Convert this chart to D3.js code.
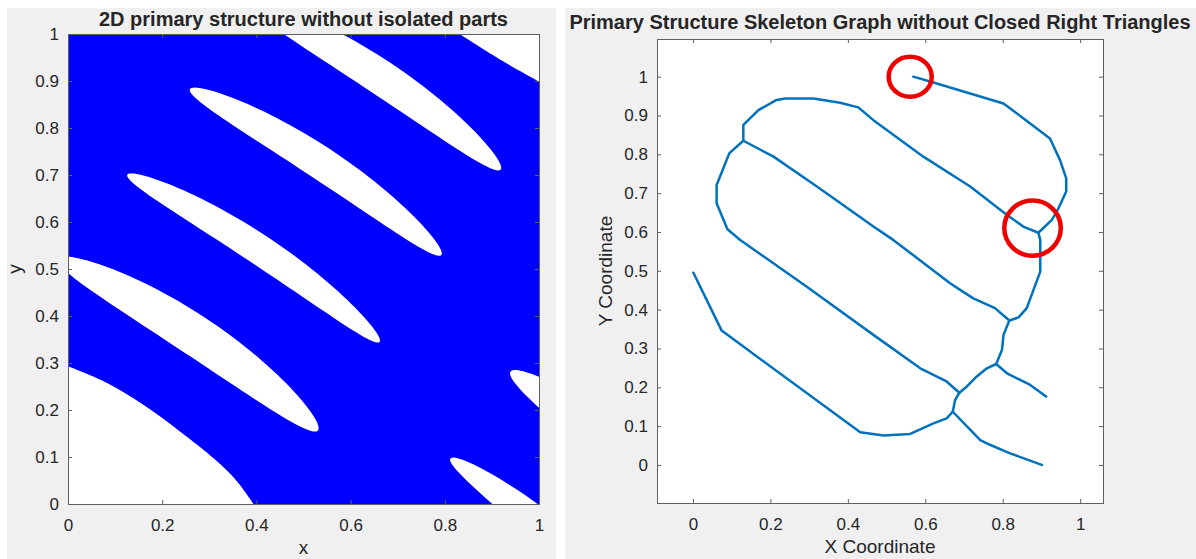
<!DOCTYPE html>
<html>
<head>
<meta charset="utf-8">
<script src="https://cdn.jsdelivr.net/npm/d3@7"></script>
<style>
  html, body { margin: 0; padding: 0; background: #ffffff; }
  svg { display: block; }
  text { font-family: "Liberation Sans", Arial, Helvetica, sans-serif; fill: #262626; }
</style>
</head>
<body>
<svg id="chart" width="1196" height="559"></svg>
<script>
// ---------- tick values ----------
const leftXTicks = [0, 0.2, 0.4, 0.6, 0.8, 1];
const leftYTicks = [0, 0.1, 0.2, 0.3, 0.4, 0.5, 0.6, 0.7, 0.8, 0.9, 1];
const rightXTicks = [0, 0.2, 0.4, 0.6, 0.8, 1];
const rightYTicks = [0, 0.1, 0.2, 0.3, 0.4, 0.5, 0.6, 0.7, 0.8, 0.9, 1];

// ---------- 2D primary structure: void (white) regions ----------
// corner voids: boundary points [x, y]
const voidLowerLeft = [[0, 0.293], [0.084, 0.257], [0.160, 0.211], [0.237, 0.155], [0.313, 0.094], [0.359, 0.048], [0.394, 0]];
const voidUpperRight = [[0.831, 1], [0.922, 0.943], [1, 0.899]];
// elongated voids: end points of the long axis, half width, bow of the centre line
const stripeStart = [[-0.02, 0.522], [0.126, 0.701], [0.259, 0.883], [0.383, 1.068], [0.940, 0.282], [0.812, 0.097]];
const stripeEnd   = [[0.531, 0.157], [0.662, 0.345], [0.793, 0.530], [0.919, 0.712], [1.40, -0.11], [1.30, -0.33]];
const stripeHalfWidth = [0.043, 0.032, 0.035, 0.037, 0.042, 0.034];
const stripeBow = [0.024, 0.022, 0.022, 0.022, 0.02, 0.02];

// ---------- skeleton graph edges, polyline points [x, y] ----------
const edgeA = [[0.569, 1.0], [0.621, 0.985], [0.802, 0.931], [0.853, 0.893], [0.922, 0.841], [0.948, 0.785], [0.964, 0.738], [0.964, 0.704], [0.944, 0.661], [0.927, 0.631], [0.892, 0.598]];
const edgeB = [[0.892, 0.598], [0.853, 0.614], [0.811, 0.644], [0.716, 0.717], [0.595, 0.794], [0.466, 0.888], [0.427, 0.921], [0.380, 0.933], [0.311, 0.944], [0.238, 0.944], [0.216, 0.940], [0.169, 0.914], [0.130, 0.876], [0.130, 0.835]];
const edgeC = [[0.130, 0.835], [0.094, 0.803], [0.061, 0.721], [0.061, 0.674], [0.089, 0.607], [0.121, 0.580], [0.294, 0.459], [0.466, 0.335], [0.587, 0.249], [0.621, 0.232], [0.655, 0.215], [0.688, 0.186]];
const edgeD = [[0.130, 0.835], [0.208, 0.794], [0.320, 0.717], [0.466, 0.614], [0.518, 0.579], [0.664, 0.468], [0.690, 0.451], [0.724, 0.429], [0.780, 0.404], [0.817, 0.372]];
const edgeE = [[0.892, 0.598], [0.897, 0.579], [0.897, 0.498], [0.862, 0.404], [0.841, 0.380], [0.817, 0.372]];
const edgeF = [[0.817, 0.372], [0.802, 0.335], [0.798, 0.296], [0.783, 0.260]];
const edgeG = [[0.783, 0.260], [0.811, 0.236], [0.845, 0.219], [0.871, 0.206], [0.912, 0.176]];
const edgeH = [[0.783, 0.260], [0.759, 0.249], [0.733, 0.228], [0.703, 0.198], [0.688, 0.186]];
const edgeI = [[0.688, 0.186], [0.677, 0.167], [0.671, 0.137]];
const edgeJ = [[0.671, 0.137], [0.742, 0.064], [0.767, 0.052], [0.819, 0.030], [0.901, 0.0]];
const edgeK = [[0.671, 0.137], [0.655, 0.120], [0.621, 0.107], [0.561, 0.080], [0.492, 0.076], [0.432, 0.084], [0.074, 0.346], [0.001, 0.495]];
const skeletonEdges = [edgeA, edgeB, edgeC, edgeD, edgeE, edgeF, edgeG, edgeH, edgeI, edgeJ, edgeK];

// ---------- highlighted spots: centre [x, y] and radii [rx, ry] ----------
const markCentres = [[0.561, 1.0], [0.877, 0.610]];
const markRadii = [[0.0556, 0.0515], [0.073, 0.071]];

// ---------- texts ----------
const leftTitle = "2D primary structure without isolated parts";
const rightTitle = "Primary Structure Skeleton Graph without Closed Right Triangles";
const leftXLabel = "x", leftYLabel = "y";
const rightXLabel = "X Coordinate", rightYLabel = "Y Coordinate";

// ---------- layout ----------
const svg = d3.select("#chart");
const defs = svg.append("defs");
const fig = "#f0f0f0";
svg.append("rect").attr("x", 7).attr("y", 8).attr("width", 549).attr("height", 551).attr("fill", fig);
svg.append("rect").attr("x", 565).attr("y", 8).attr("width", 631).attr("height", 551).attr("fill", fig);

const tickFmt = d3.format(".1~f");
const TICK_FONT = 17, LABEL_FONT = 19, TITLE_FONT = 20;
const lineCol = "#5f5f5f";

function frame(g, x, y, xTicks, yTicks) {
  const [x0, x1] = x.range(), [y0, y1] = y.range();
  const styleAxis = sel => {
    sel.select(".domain").remove();
    sel.selectAll(".tick line").attr("stroke", lineCol).attr("stroke-width", 1);
    sel.selectAll(".tick text").attr("font-size", TICK_FONT).attr("fill", "#262626")
      .attr("font-family", '"Liberation Sans", Arial, sans-serif');
  };
  g.append("g").attr("transform", `translate(0,${y0})`)
    .call(d3.axisBottom(x).tickValues(xTicks).tickFormat(tickFmt).tickSizeInner(-4).tickSizeOuter(0).tickPadding(15))
    .call(styleAxis);
  g.append("g").attr("transform", `translate(0,${y1})`)
    .call(d3.axisTop(x).tickValues(xTicks).tickFormat("").tickSizeInner(-4).tickSizeOuter(0))
    .call(styleAxis);
  g.append("g").attr("transform", `translate(${x0},0)`)
    .call(d3.axisLeft(y).tickValues(yTicks).tickFormat(tickFmt).tickSizeInner(-4).tickSizeOuter(0).tickPadding(9))
    .call(styleAxis);
  g.append("g").attr("transform", `translate(${x1},0)`)
    .call(d3.axisRight(y).tickValues(yTicks).tickFormat("").tickSizeInner(-4).tickSizeOuter(0))
    .call(styleAxis);
  g.append("rect").attr("x", x0 + 0.5).attr("y", y1 + 0.5)
    .attr("width", x1 - x0).attr("height", y0 - y1)
    .attr("fill", "none").attr("stroke", lineCol).attr("stroke-width", 1);
}

// outline of an elongated void: elliptic width profile along a slightly bowed axis
function stripeOutline(i) {
  const [ax, ay] = stripeStart[i], [bx, by] = stripeEnd[i];
  const dx = bx - ax, dy = by - ay, len = Math.hypot(dx, dy);
  const nx = -dy / len, ny = dx / len;          // normal towards the upper-right side
  const hw = stripeHalfWidth[i], bow = stripeBow[i];
  const pts = [];
  const n = 120;
  for (let k = 0; k < n; k++) {
    const t = 2 * Math.PI * k / n;
    const s = (1 - Math.cos(t)) / 2;
    const off = hw * Math.sin(t) + bow * 4 * s * (1 - s);
    pts.push([ax + dx * s + nx * off, ay + dy * s + ny * off]);
  }
  return pts;
}

// ===== left panel: primary structure =====
const xL = d3.scaleLinear().domain([0, 1]).range([68, 539]);
const yL = d3.scaleLinear().domain([0, 1]).range([504, 34]);
const gL = svg.append("g");
defs.append("clipPath").attr("id", "clipLeft").append("rect")
  .attr("x", xL(0)).attr("y", yL(1)).attr("width", xL(1) - xL(0)).attr("height", yL(0) - yL(1));
const body = gL.append("g").attr("clip-path", "url(#clipLeft)");
body.append("rect").attr("x", xL(0)).attr("y", yL(1)).attr("width", xL(1) - xL(0)).attr("height", yL(0) - yL(1)).attr("fill", "#0000ff");

const edgeCurve = d3.line().x(d => xL(d[0])).y(d => yL(d[1])).curve(d3.curveCatmullRom.alpha(0.5));
const closedLine = d3.line().x(d => xL(d[0])).y(d => yL(d[1])).curve(d3.curveLinearClosed);

body.append("path")
  .attr("d", edgeCurve(voidLowerLeft) + `L${xL(0)},${yL(0)}Z`)
  .attr("fill", "#ffffff");
body.append("path")
  .attr("d", edgeCurve(voidUpperRight) + `L${xL(1)},${yL(1)}Z`)
  .attr("fill", "#ffffff");
body.selectAll("path.stripe").data(d3.range(stripeStart.length)).join("path")
  .attr("class", "stripe")
  .attr("d", i => closedLine(stripeOutline(i)))
  .attr("fill", "#ffffff");

frame(gL, xL, yL, leftXTicks, leftYTicks);
gL.append("text").attr("x", (xL(0) + xL(1)) / 2).attr("y", 26).attr("text-anchor", "middle")
  .attr("font-size", TITLE_FONT).attr("font-weight", "bold").attr("fill", "#000").text(leftTitle);
gL.append("text").attr("x", (xL(0) + xL(1)) / 2).attr("y", 554).attr("text-anchor", "middle")
  .attr("font-size", LABEL_FONT).text(leftXLabel);
gL.append("text").attr("transform", `translate(21,${(yL(0) + yL(1)) / 2}) rotate(-90)`).attr("text-anchor", "middle")
  .attr("font-size", LABEL_FONT).text(leftYLabel);

// ===== right panel: skeleton graph =====
const xR = d3.scaleLinear().domain([-0.093, 1.059]).range([657, 1103]);
const yR = d3.scaleLinear().domain([-0.098, 1.097]).range([503, 39]);
const gR = svg.append("g");
gR.append("rect").attr("x", xR.range()[0]).attr("y", yR.range()[1])
  .attr("width", xR.range()[1] - xR.range()[0]).attr("height", yR.range()[0] - yR.range()[1]).attr("fill", "#ffffff");

const edgeLine = d3.line().x(d => xR(d[0])).y(d => yR(d[1]));
gR.selectAll("path.edge").data(skeletonEdges).join("path")
  .attr("class", "edge")
  .attr("d", edgeLine)
  .attr("fill", "none").attr("stroke", "#0072BD").attr("stroke-width", 2.5)
  .attr("stroke-linejoin", "round").attr("stroke-linecap", "round");

frame(gR, xR, yR, rightXTicks, rightYTicks);

gR.selectAll("ellipse.mark").data(markCentres).join("ellipse")
  .attr("class", "mark")
  .attr("cx", d => xR(d[0])).attr("cy", d => yR(d[1]))
  .attr("rx", (d, i) => xR(markRadii[i][0]) - xR(0))
  .attr("ry", (d, i) => yR(0) - yR(markRadii[i][1]))
  .attr("fill", "none").attr("stroke", "#ee0000").attr("stroke-width", 4.5);

gR.append("text").attr("x", (xR.range()[0] + xR.range()[1]) / 2).attr("y", 29).attr("text-anchor", "middle")
  .attr("font-size", TITLE_FONT).attr("font-weight", "bold").attr("fill", "#000").text(rightTitle);
gR.append("text").attr("x", (xR.range()[0] + xR.range()[1]) / 2).attr("y", 553).attr("text-anchor", "middle")
  .attr("font-size", LABEL_FONT).text(rightXLabel);
gR.append("text").attr("transform", `translate(612,${(yR.range()[0] + yR.range()[1]) / 2}) rotate(-90)`).attr("text-anchor", "middle")
  .attr("font-size", LABEL_FONT).text(rightYLabel);
</script>
</body>
</html>
